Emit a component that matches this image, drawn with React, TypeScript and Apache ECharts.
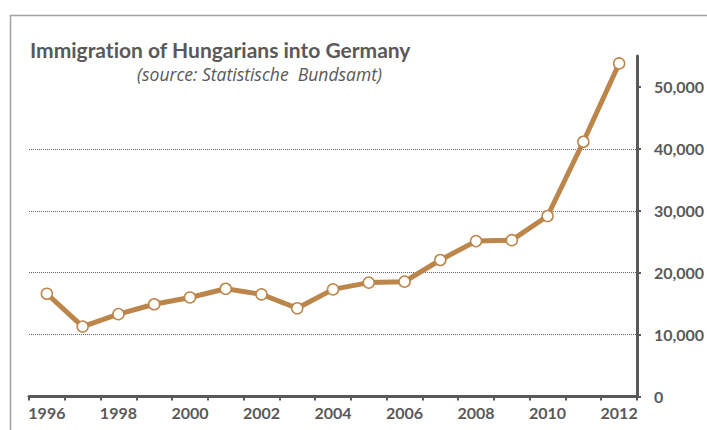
import React, { useEffect, useRef } from "react";
import * as echarts from "echarts";

const years = ["1996","1997","1998","1999","2000","2001","2002","2003","2004","2005","2006","2007","2008","2009","2010","2011","2012"];
const immigrants = [16600, 11300, 13300, 14900, 16000, 17400, 16500, 14250, 17300, 18400, 18550, 22050, 25100, 25250, 29150, 41150, 53800];
const yTicks = [0, 10000, 20000, 30000, 40000, 50000];
const titleText = "Immigration of Hungarians into Germany";
const subtitleText = "(source: Statistische  Bundsamt)";

const FONT = "Lato, 'Open Sans', sans-serif";
const GREY = "#595959";

export default function App() {
  const ref = useRef<HTMLDivElement>(null);
  useEffect(() => {
    if (!ref.current) return;
    const chart = echarts.init(ref.current, null, { renderer: "svg" });
    chart.setOption({
      animation: false,
      backgroundColor: "#fff",
      grid: { left: 29, right: 70, top: 56, bottom: 33.5, containLabel: false, outerBoundsMode: "none" },
      xAxis: {
        type: "category",
        data: years,
        boundaryGap: true,
        axisLine: { lineStyle: { color: GREY, width: 3 } },
        axisTick: { show: true, length: 4, interval: 0, lineStyle: { color: GREY, width: 2 } },
        axisLabel: {
          interval: 1,
          color: GREY,
          fontFamily: FONT,
          fontWeight: "bold",
          fontSize: 16,
          margin: 8,
        },
        splitLine: { show: false },
      },
      yAxis: {
        type: "value",
        position: "right",
        min: 0,
        max: 55000,
        interval: 10000,
        axisLine: { show: true, lineStyle: { color: GREY, width: 3 } },
        axisTick: { show: true, length: 4, customValues: yTicks, lineStyle: { color: GREY, width: 2 } },
        axisLabel: {
          color: GREY,
          fontFamily: FONT,
          fontWeight: "bold",
          fontSize: 16,
          margin: 17,
          formatter: (v: number) =>
            yTicks.indexOf(v) < 0 ? "" : v === 0 ? "0" : v.toLocaleString("en-US"),
        },
        splitLine: {
          show: true,
          showMinLine: false,
          showMaxLine: false,
          lineStyle: { color: "#666", type: [1, 1], width: 1 },
        },
      },
      graphic: [
        {
          type: "rect",
          left: 8,
          top: 13,
          shape: { width: 720, height: 440 },
          style: { fill: "none", stroke: "#a0a0a0", lineWidth: 1.5 },
          silent: true,
          z: 0,
        },
        {
          type: "rect",
          shape: { x: 20, y: 30, width: 481, height: 64 },
          style: { fill: "#fff" },
          silent: true,
          z: 5,
        },
        {
          type: "text",
          x: 30,
          y: 39,
          z: 6,
          style: {
            text: titleText,
            fill: GREY,
            font: `bold 21px ${FONT}`,
          },
        },
        {
          type: "text",
          x: 137,
          y: 65,
          z: 6,
          style: {
            text: subtitleText,
            fill: GREY,
            font: `italic 17.5px 'Open Sans', sans-serif`,
          },
        },
      ],
      series: [
        {
          type: "line",
          data: immigrants,
          z: 10,
          symbol: "circle",
          symbolSize: 11,
          lineStyle: { color: "#BC8549", width: 5 },
          itemStyle: { color: "#fff", borderColor: "#BC8549", borderWidth: 1.5 },
        },
      ],
    });
    return () => chart.dispose();
  }, []);
  return (
    <>
      <style>{"svg text { font-variant-ligatures: none !important; font-feature-settings: 'liga' 0, 'clig' 0 !important; }"}</style>
      <div
        ref={ref}
        style={{ position: "absolute", left: 0, top: 0, width: 707, height: 430 }}
      />
    </>
  );
}
